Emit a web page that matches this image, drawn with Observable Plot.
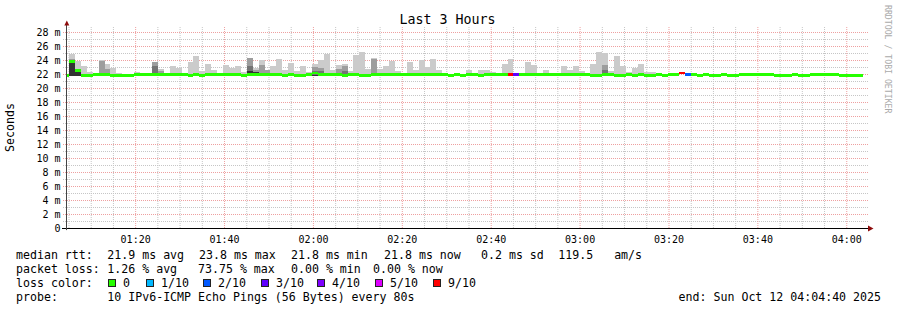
<!DOCTYPE html>
<html><head><meta charset="utf-8">
<script src="https://cdn.jsdelivr.net/npm/d3@7"></script>
<script src="https://cdn.jsdelivr.net/npm/@observablehq/plot@0.6"></script>
<style>
html,body{margin:0;padding:0;background:#fff;overflow:hidden}
#chart{width:897px;height:310px;overflow:hidden}
</style></head><body><div id="chart"></div>
<script>
// ---------- chart content ----------
const titleText = "Last 3 Hours";
const yAxisLabel = "Seconds";
const watermark = "RRDTOOL / TOBI OETIKER";
const rangeStart = "2025-10-12T01:04:40Z";
const rangeEnd = "2025-10-12T04:04:40Z";
const firstStep = "2025-10-12T01:03:47Z";
const stepSeconds = 80;
const smokeFloor = 21.7; // lowest ping (ms)

// median rtt per 80 s step (ms)
const median = [
  21.75,23.8,22.5,21.75,21.75,21.9,21.9,21.9,21.75,21.75,
  21.75,21.75,21.9,21.9,21.9,21.9,21.9,21.9,21.9,21.9,
  21.9,21.75,21.9,21.75,21.9,21.9,21.9,21.9,21.9,21.9,
  21.75,21.9,21.9,21.9,21.9,21.9,21.9,21.75,21.9,21.75,
  21.75,21.9,22.15,21.9,21.9,21.9,21.9,21.75,21.9,21.9,
  21.75,21.75,21.9,21.9,21.9,21.9,21.9,21.9,21.9,21.9,
  21.9,21.9,21.9,21.9,21.9,21.75,21.9,21.75,21.9,21.9,
  21.75,21.9,21.9,21.9,21.9,21.9,21.9,21.9,21.9,21.9,
  21.9,21.9,21.9,21.9,21.9,21.9,21.9,21.9,21.9,21.75,
  21.75,21.9,21.9,21.75,21.75,21.9,21.75,21.9,21.75,21.75,
  21.9,21.75,21.9,21.9,22.15,21.95,21.9,21.75,21.9,21.75,
  21.75,21.9,21.75,21.75,21.9,21.9,21.9,21.9,21.9,21.9,
  21.75,21.75,21.75,21.9,21.75,21.75,21.9,21.9,21.9,21.9,
  21.9,21.75,21.75,21.75,21.75
];
// highest ping per step (lightest smoke)
const smokeLight = [
  null,24.9,23.9,23.1,22.3,22.2,24.0,23.4,22.9,22.2,
  null,null,22.3,null,null,null,22.7,null,23.1,22.9,
  22.2,23.7,24.6,22.5,23.4,22.6,null,23.3,22.9,23.1,
  22.3,null,22.9,24.0,null,23.2,24.1,22.6,23.6,22.5,
  23.1,22.3,23.4,24.0,24.9,22.6,23.3,23.5,22.4,24.7,
  25.1,22.7,24.3,22.7,23.2,23.9,22.4,null,23.7,22.6,
  24.0,23.0,24.1,22.6,null,null,22.2,null,22.6,22.2,
  22.6,22.6,22.3,null,23.4,24.1,null,null,23.7,23.3,
  22.2,22.6,22.2,null,23.2,22.6,23.2,22.4,null,23.4,
  25.2,25.0,22.4,24.6,23.1,22.3,22.9,23.4,22.3,22.3,
  null,null,null,null,null,null,null,null,null,null,
  null,null,null,null,null,null,null,null,null,null,
  null,null,null,null,null,null,null,null,null,null,
  null,null,null,null,null
];
// denser smoke: [step, top ms]
const smokeMid = [[1,24.2],[6,23.9],[7,22.7],[15,23.7],[16,22.4],[19,22.2],[31,24.3],[32,22.6],[33,23.3],[34,22.6],[42,23.0],[43,22.9],[46,22.7],[47,23.1],[52,24.2],[91,23.3],[92,22.2]];
const smokeDark = [[15,23.1],[31,23.1],[42,22.5],[43,22.5],[47,22.4],[91,22.6]];
const smokeBlack = [[1,23.6],[2,22.3],[31,22.5],[32,22.3],[42,21.9]];
// lost pings (of 10) per step, all other steps 0
const lossSteps = [[75,9],[76,3],[104,9],[105,2]];
const lossCounts = [0,1,2,3,4,5,9];
const lossLabels = ["0","1/10","2/10","3/10","4/10","5/10","9/10"];
const lossColors = ["#26ff00","#00b8ff","#0059ff","#5e00ff","#7e00ff","#dd00ff","#ff0000"];

const xTickLabels = ["01:20","01:40","02:00","02:20","02:40","03:00","03:20","03:40","04:00"];
const yTickValues = [0,2,4,6,8,10,12,14,16,18,20,22,24,26,28];
const yTickLabels = ["0","2 m","4 m","6 m","8 m","10 m","12 m","14 m","16 m","18 m","20 m","22 m","24 m","26 m","28 m"];

const rttLabel = "median rtt:";
const rttStats = ["21.9 ms avg","23.8 ms max","21.8 ms min","21.8 ms now","0.2 ms sd","119.5   am/s"];
const lossLabel = "packet loss:";
const lossStats = ["1.26 % avg","73.75 % max","0.00 % min","0.00 % now"];
const colorLabel = "loss color:";
const probeLabel = "probe:";
const probeText = "10 IPv6-ICMP Echo Pings (56 Bytes) every 80s";
const endText = "end: Sun Oct 12 04:04:40 2025";

// ---------- styling ----------
const mono = "DejaVu Sans Mono";
const smokeColors = ["#cbcbcb","#9d9d9d","#747474","#333333"];
const gridGray = "#c6c6c6";
const gridRed = "#eea0a0";
const arrowColor = "#8e0c0c";
const medianHalf = 0.2;

// ---------- build ----------
const start = new Date(rangeStart), end = new Date(rangeEnd);
const msPerPx = (end - start) / 800;
const t0 = Date.parse(firstStep);
const step = i => ({t1: new Date(t0 + i * stepSeconds * 1000), t2: new Date(t0 + (i + 1) * stepSeconds * 1000)});
const fullLayer = vals => vals.map((v, i) => v == null ? null : {...step(i), lo: smokeFloor, hi: v}).filter(Boolean);
const sparseLayer = pairs => pairs.map(([i, v]) => ({...step(i), lo: smokeFloor, hi: v}));
const lossByStep = new Map(lossSteps);
const medianBands = median.map((m, i) => ({
  ...step(i), lo: m - medianHalf, hi: m + medianHalf,
  color: lossColors[lossCounts.indexOf(lossByStep.get(i) ?? 0)]
}));

const majorX = xTickLabels.map(s => new Date(`2025-10-12T${s}:00Z`));
const xLabelByTime = new Map(majorX.map((d, i) => [+d, xTickLabels[i]]));
const minorX = d3.utcMinute.every(5).range(start, end).filter(d => !xLabelByTime.has(+d));
const yLabelByValue = new Map(yTickValues.map((v, i) => [v, yTickLabels[i]]));
const majorY = yTickValues.filter(v => v > 0);
const minorY = d3.range(1, 28, 2);
const gridX1 = new Date(+start - 4 * msPerPx), gridX2 = new Date(+end + 1 * msPerPx);

const rectOpts = {x1: "t1", x2: "t2", y1: "lo", y2: "hi", clip: true, shapeRendering: "crispEdges"};

const svg = Plot.plot({
  width: 897, height: 310,
  marginLeft: 67, marginRight: 30, marginTop: 21.5, marginBottom: 82,
  x: {type: "utc", domain: [start, end]},
  y: {type: "linear", domain: [0, 29.5]},
  color: {type: "identity"},
  style: {fontFamily: mono, fontSize: "10px", background: "#fff", color: "#000", overflow: "visible"},
  marks: [
    Plot.ruleY(minorY, {x1: gridX1, x2: gridX2, stroke: gridGray, strokeDasharray: "1,1"}),
    Plot.ruleX(minorX, {y1: 0, y2: 28.85, stroke: gridGray, strokeDasharray: "1,1"}),
    Plot.ruleY(majorY, {x1: gridX1, x2: gridX2, stroke: gridRed, strokeDasharray: "1,1"}),
    Plot.ruleX(majorX, {y1: 0, y2: 28.85, stroke: gridRed, strokeDasharray: "1,1"}),
    Plot.rect(fullLayer(smokeLight), {...rectOpts, fill: smokeColors[0]}),
    Plot.rect(sparseLayer(smokeMid), {...rectOpts, fill: smokeColors[1]}),
    Plot.rect(sparseLayer(smokeDark), {...rectOpts, fill: smokeColors[2]}),
    Plot.rect(sparseLayer(smokeBlack), {...rectOpts, fill: smokeColors[3]}),
    Plot.rect(medianBands, {...rectOpts, fill: "color"}),
    Plot.ruleY([0], {x1: new Date(+start - 5 * msPerPx), x2: new Date(+end + 2 * msPerPx), stroke: "#000"}),
    Plot.ruleX([start], {y1: -0.3, y2: 29.0, stroke: "#444", dx: -1}),
    Plot.axisX(majorX, {tickFormat: d => xLabelByTime.get(+d), tickSize: 0, tickPadding: 7, label: null, fontSize: 10}),
    Plot.axisY(yTickValues, {tickFormat: d => yLabelByValue.get(d), tickSize: 0, tickPadding: 7, label: null, fontSize: 10})
  ]
});
document.getElementById("chart").appendChild(svg);

// ---------- arrows and texts ----------
const X = svg.scale("x"), Y = svg.scale("y");
const ax = X.apply(start), ay = Y.apply(0), ex = X.apply(end), ty = Y.apply(29.5);
const root = d3.select(svg);
root.append("path").attr("fill", arrowColor)
  .attr("d", `M${ax - 0.2},${ty - 1}L${ax - 2.7},${ty + 4}L${ax + 2.3},${ty + 4}Z`);
root.append("path").attr("fill", arrowColor)
  .attr("d", `M${ex + 1},${ay - 2.5}L${ex + 1},${ay + 3.5}L${ex + 6.5},${ay + 0.5}Z`);

const g = root.append("g").attr("font-family", mono).attr("fill", "#000").style("white-space", "pre");
function txt(s, x, y, size, anchor = "start", extra) {
  const t = g.append("text").attr("x", x).attr("y", y).attr("font-size", size)
    .attr("text-anchor", anchor).attr("xml:space", "preserve").text(s);
  if (extra) extra(t);
  return t;
}
txt(titleText, 447.5, 24, 13.3, "middle");
txt(yAxisLabel, 0, 0, 11.6, "middle", t => t.attr("transform", "translate(13.8,127.5) rotate(-90)"));
txt(watermark, 0, 0, 8.2, "start", t => t.attr("transform", "translate(885,5) rotate(90)").attr("fill", "#aaaaaa"));

const lineY = [258.5, 272.7, 286.9, 301.1];
const fs = 11.6;
txt(rttLabel, 16, lineY[0], fs);
[107.3, 199, 291, 384, 481, 558.3].forEach((x, i) => txt(rttStats[i], x, lineY[0], fs));
txt(lossLabel, 16, lineY[1], fs);
[107.3, 198, 291, 373].forEach((x, i) => txt(lossStats[i], x, lineY[1], fs));
txt(colorLabel, 16, lineY[2], fs);
[108, 146, 203, 261, 317, 375, 433].forEach((bx, i) => {
  g.append("rect").attr("x", bx + 0.5).attr("y", lineY[2] - 7.4).attr("width", 7).attr("height", 7)
    .attr("fill", lossColors[i]).attr("stroke", "#222").attr("stroke-width", 1);
  txt(lossLabels[i], bx + 15, lineY[2], fs);
});
txt(probeLabel, 16, lineY[3], fs);
txt(probeText, 107.3, lineY[3], fs);
txt(endText, 881, lineY[3], fs, "end");
</script></body></html>
